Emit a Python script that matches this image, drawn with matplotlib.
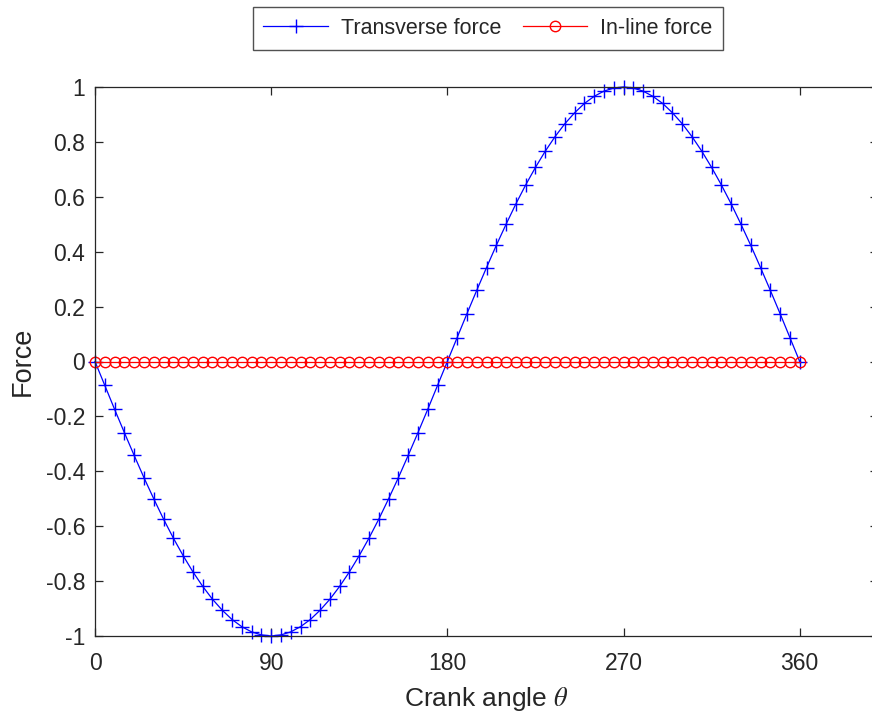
import matplotlib
matplotlib.use("Agg")
import matplotlib.pyplot as plt

plt.rcParams['font.family'] = ['Liberation Sans', 'DejaVu Sans']
plt.rcParams['mathtext.fontset'] = 'stix'

crank_angle = [0, 5, 10, 15, 20, 25, 30, 35, 40, 45, 50, 55, 60, 65, 70, 75, 80, 85, 90,
               95, 100, 105, 110, 115, 120, 125, 130, 135, 140, 145, 150, 155, 160, 165, 170, 175, 180,
               185, 190, 195, 200, 205, 210, 215, 220, 225, 230, 235, 240, 245, 250, 255, 260, 265, 270,
               275, 280, 285, 290, 295, 300, 305, 310, 315, 320, 325, 330, 335, 340, 345, 350, 355, 360]

transverse_force = [0.0, -0.087, -0.174, -0.259, -0.342, -0.423, -0.5, -0.574, -0.643, -0.707,
                    -0.766, -0.819, -0.866, -0.906, -0.94, -0.966, -0.985, -0.996, -1.0,
                    -0.996, -0.985, -0.966, -0.94, -0.906, -0.866, -0.819, -0.766, -0.707,
                    -0.643, -0.574, -0.5, -0.423, -0.342, -0.259, -0.174, -0.087, 0.0,
                    0.087, 0.174, 0.259, 0.342, 0.423, 0.5, 0.574, 0.643, 0.707,
                    0.766, 0.819, 0.866, 0.906, 0.94, 0.966, 0.985, 0.996, 1.0,
                    0.996, 0.985, 0.966, 0.94, 0.906, 0.866, 0.819, 0.766, 0.707,
                    0.643, 0.574, 0.5, 0.423, 0.342, 0.259, 0.174, 0.087, 0.0]

inline_force = [0.0] * 73

x_ticks = [0, 90, 180, 270, 360]
y_ticks = [-1, -0.8, -0.6, -0.4, -0.2, 0, 0.2, 0.4, 0.6, 0.8, 1]
y_tick_labels = ['-1', '-0.8', '-0.6', '-0.4', '-0.2', '0', '0.2', '0.4', '0.6', '0.8', '1']

W, H = 872, 717
fig = plt.figure(figsize=(W / 100, H / 100), dpi=100)
left, right, top, bottom = 95, 878, 87, 636
ax = fig.add_axes([left / W, 1 - bottom / H, (right - left) / W, (bottom - top) / H])

ax.plot(crank_angle, transverse_force, color='#0000ff', marker='+', markersize=10,
        markeredgewidth=1.0, linewidth=0.9, label='Transverse force', clip_on=False)
ax.plot(crank_angle, inline_force, color='#ff0000', marker='o', markersize=7.5,
        markerfacecolor='none', markeredgewidth=1.0, linewidth=0.9, label='In-line force',
        clip_on=False)

ax.set_xlim(0, 400)
ax.set_ylim(-1, 1)
ax.set_xticks(x_ticks)
ax.set_xticklabels([str(t) for t in x_ticks])
ax.set_yticks(y_ticks)
ax.set_yticklabels(y_tick_labels)

gray = '#262626'
for s in ax.spines.values():
    s.set_color(gray)
    s.set_linewidth(0.9)
ax.tick_params(direction='in', length=6, width=0.9, colors=gray, labelsize=16.5,
               top=True, right=True)
ax.tick_params(axis='x', pad=11.5)
ax.tick_params(axis='y', pad=7)

ax.set_xlabel(r'Crank angle $\theta$', fontsize=19, color=gray, labelpad=7)
ax.set_ylabel('Force', fontsize=19.5, color=gray, labelpad=7)

leg = fig.legend(loc='center', bbox_to_anchor=(488 / W, 1 - 28.5 / H), ncol=2,
                 fontsize=15.5, frameon=True, fancybox=False, handlelength=3.0,
                 columnspacing=1.0, handletextpad=0.6, borderpad=0.5)
leg.get_frame().set_edgecolor(gray)
leg.get_frame().set_linewidth(1.0)
for t in leg.get_texts():
    t.set_color(gray)

fig.savefig('out.png', dpi=100)
